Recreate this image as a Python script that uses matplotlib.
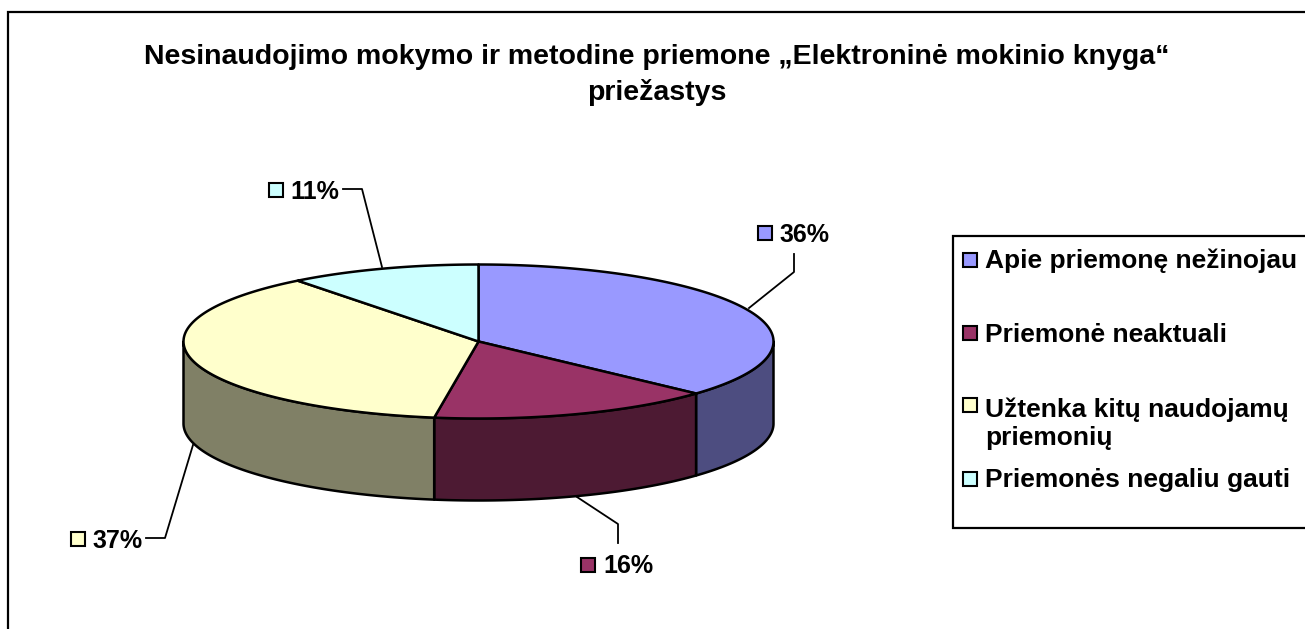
import numpy as np
import matplotlib
matplotlib.use("Agg")
import matplotlib.pyplot as plt
from matplotlib.patches import Polygon, Rectangle

plt.rcParams['font.family'] = ['Liberation Sans', 'DejaVu Sans']

TITLE = "Nesinaudojimo mokymo ir metodine priemone „Elektroninė mokinio knyga“\npriežastys"
categories = ["Apie priemonę nežinojau", "Priemonė neaktuali",
              "Užtenka kitų naudojamų\npriemonių", "Priemonės negaliu gauti"]
values = [36.8, 15.6, 37.1, 10.5]
percent_labels = ["36%", "16%", "37%", "11%"]
top_colors = ["#9999FF", "#993366", "#FFFFCC", "#CCFFFF"]
side_colors = ["#4D4D80", "#4D1A33", "#808066", "#668080"]

W, H = 1305, 629
fig = plt.figure(figsize=(W / 100, H / 100), dpi=100, facecolor="white")
ax = fig.add_axes([0, 0, 1, 1])
ax.set_xlim(0, W)
ax.set_ylim(H, 0)
ax.axis("off")

# Chart frame (runs off the right and bottom edges)
ax.plot([7.5, 7.5, 1310], [640, 11.5, 11.5], color="black", lw=1.6, solid_joinstyle="miter")

ax.text(657, 75, TITLE, ha="center", va="center", fontsize=20.5, fontweight="bold",
        linespacing=1.42, color="black")

# Pie geometry
CX, CY, RX, RY, DEPTH = 478.5, 341.5, 295, 77, 82


def point(theta):
    return CX + RX * np.sin(theta), CY - RY * np.cos(theta)


fr = np.array(values) / sum(values)
edges = np.concatenate([[0], np.cumsum(fr)]) * 2 * np.pi
LW = 1.8

# Side walls: only the visible front half (theta between pi/2 and 3pi/2)
for i in range(len(values)):
    a = max(edges[i], np.pi / 2)
    b = min(edges[i + 1], 3 * np.pi / 2)
    if b <= a:
        continue
    t = np.linspace(a, b, 160)
    x, y = point(t)
    pts = np.r_[np.c_[x, y], np.c_[x[::-1], y[::-1] + DEPTH]]
    ax.add_patch(Polygon(pts, closed=True, facecolor=side_colors[i], edgecolor="black",
                         lw=LW, joinstyle="round", zorder=2))

# Top faces
for i in range(len(values)):
    t = np.linspace(edges[i], edges[i + 1], 200)
    x, y = point(t)
    pts = np.r_[[[CX, CY]], np.c_[x, y]]
    ax.add_patch(Polygon(pts, closed=True, facecolor=top_colors[i], edgecolor="black",
                         lw=LW, joinstyle="round", zorder=3))

# Data labels: swatch, percentage and leader
label_swatch = [(757.5, 226), (581, 557.5), (70.5, 531.5), (268.5, 182.5)]
label_text = [(779, 234.5), (603, 566), (92, 541), (290, 192)]
leaders = [
    [(749, 308), (794, 272), (794, 254)],
    [(577, 497), (618, 524), (618, 543)],
    [(193, 445), (165, 538), (146, 538)],
    [(382, 267), (362, 189), (343, 189)],
]
for i in range(len(values)):
    sx, sy = label_swatch[i]
    ax.add_patch(Rectangle((sx, sy), 14, 14, facecolor=top_colors[i], edgecolor="black",
                           lw=1.5, zorder=4))
    tx, ty = label_text[i]
    ax.text(tx, ty, percent_labels[i], ha="left", va="center", fontsize=18,
            fontweight="bold", color="black", zorder=4)
    lx, ly = zip(*leaders[i])
    ax.plot(lx, ly, color="black", lw=1.3, zorder=1)

# Legend
ax.plot([1310, 952.5, 952.5, 1310], [236, 236, 528, 528], color="black", lw=1.6,
        solid_joinstyle="miter")
legend_y = [259.5, 332.5, 404.5, 478.5]
text_y = [261, 335, 424, 480]
for i, label in enumerate(categories):
    ax.add_patch(Rectangle((962.5, legend_y[i] - 7), 14, 14, facecolor=top_colors[i],
                           edgecolor="black", lw=1.5, zorder=4))
    ax.text(985, text_y[i], label, ha="left", va="center", fontsize=19, fontweight="bold",
            linespacing=1.2, color="black")

fig.savefig("out.png", dpi=100, facecolor="white")
